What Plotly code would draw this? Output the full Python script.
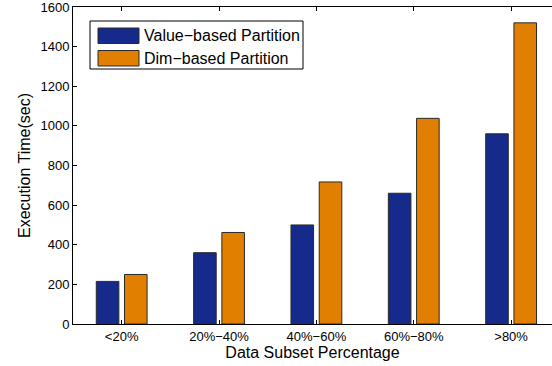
import plotly.graph_objects as go

# Data
categories = ["<20%", "20%−40%", "40%−60%", "60%−80%", ">80%"]
series_names = ["Value−based Partition", "Dim−based Partition"]
value_based = [215, 360, 500, 660, 960]
dim_based = [250, 462, 717, 1038, 1520]
y_ticks = [0, 200, 400, 600, 800, 1000, 1200, 1400, 1600]

colors = ["#152a8a", "#e07f00"]
edge = "#2a2a2a"
font_family = "Liberation Sans, Arial, Helvetica, sans-serif"

W, H = 552, 366
ML, MR, MT, MB = 73, 0, 7, 42
PW, PH = W - ML - MR, H - MT - MB


def px_x(x):
    return (x - ML) / PW


def px_y(y):
    return 1 - (y - MT) / PH


fig = go.Figure()
for name, vals, col in zip(series_names, [value_based, dim_based], colors):
    fig.add_trace(go.Bar(
        x=categories, y=vals, name=name,
        marker=dict(color=col, line=dict(color=edge, width=1)),
        showlegend=False,
    ))

# Hand-drawn legend box with wide swatches
shapes = [dict(type="rect", xref="paper", yref="paper",
               x0=px_x(90), x1=px_x(303), y0=px_y(69), y1=px_y(21),
               line=dict(color="black", width=1), fillcolor="white", layer="above")]
annotations = []
rows = [(28, 43.5), (50.5, 66)]
for (top, bot), name, col in zip(rows, series_names, colors):
    shapes.append(dict(type="rect", xref="paper", yref="paper",
                       x0=px_x(98), x1=px_x(139), y0=px_y(bot), y1=px_y(top),
                       line=dict(color=edge, width=1), fillcolor=col, layer="above"))
    annotations.append(dict(xref="paper", yref="paper", x=px_x(142), y=px_y((top + bot) / 2),
                            text=name, showarrow=False, xanchor="left", yanchor="middle",
                            font=dict(size=16, color="black", family=font_family)))

fig.update_layout(
    width=W, height=H,
    margin=dict(l=ML, r=MR, t=MT, b=MB, pad=0),
    paper_bgcolor="white", plot_bgcolor="white",
    barmode="group", bargap=0.42, bargroupgap=0.2,
    font=dict(family=font_family, color="black"),
    shapes=shapes, annotations=annotations,
    xaxis=dict(
        range=[-0.5, 4.42], showgrid=False, zeroline=False,
        showline=True, linecolor="black", linewidth=1, mirror="ticks",
        ticks="inside", ticklen=4, tickcolor="black",
        tickfont=dict(size=13),
        title=dict(text="Data Subset Percentage", font=dict(size=16), standoff=3),
    ),
    yaxis=dict(
        range=[0, 1600.01], tickvals=y_ticks, showgrid=False, zeroline=False,
        showline=True, linecolor="black", linewidth=1,
        ticks="inside", ticklen=4, tickcolor="black",
        tickfont=dict(size=13), ticklabeloverflow="allow",
        title=dict(text="Execution Time(sec)", font=dict(size=16), standoff=5),
    ),
)

fig.write_html("out.html")
